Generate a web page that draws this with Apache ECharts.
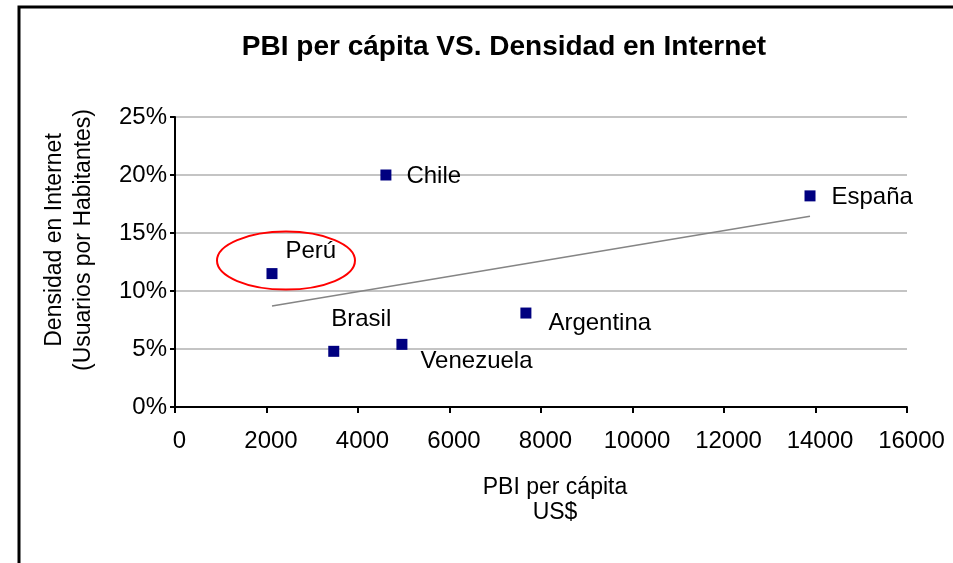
<!DOCTYPE html>
<html>
<head>
<meta charset="utf-8">
<script src="https://cdn.jsdelivr.net/npm/echarts@6/dist/echarts.min.js"></script>
<style>
html,body{margin:0;padding:0;background:#fff;}
#chart{width:953px;height:563px;}
</style>
</head>
<body>
<div id="chart"></div>
<script>
// ---- data ----
const countries = ['Perú', 'Brasil', 'Venezuela', 'Chile', 'Argentina', 'España'];
const pbiPerCapita = [2120, 3470, 4960, 4610, 7670, 13880];
const densidadInternet = [11.5, 4.8, 5.4, 20.0, 8.1, 18.2];
const xTicks = [0, 2000, 4000, 6000, 8000, 10000, 12000, 14000, 16000];
const yTicks = [0, 5, 10, 15, 20, 25];

// ---- label placement (style, not data) ----
const labelOffsets = {
  'Perú': [8, -22],
  'Brasil': [-8, -32],
  'Venezuela': [13, 17],
  'Chile': [15, 1],
  'Argentina': [17, 10],
  'España': [16, 1]
};

// linear trend line from the data
const n = pbiPerCapita.length;
const mx = pbiPerCapita.reduce((a, b) => a + b, 0) / n;
const my = densidadInternet.reduce((a, b) => a + b, 0) / n;
let sxy = 0, sxx = 0;
for (let i = 0; i < n; i++) {
  sxy += (pbiPerCapita[i] - mx) * (densidadInternet[i] - my);
  sxx += (pbiPerCapita[i] - mx) * (pbiPerCapita[i] - mx);
}
const slope = sxy / sxx;
const intercept = my - slope * mx;
const xMin = Math.min(...pbiPerCapita), xMax = Math.max(...pbiPerCapita);
const trend = [[xMin, intercept + slope * xMin], [xMax, intercept + slope * xMax]];

const FONT = '"Liberation Sans", Arial, sans-serif';
const FS = 24;

const chart = echarts.init(document.getElementById('chart'), null, {renderer: 'canvas'});

const scatterData = countries.map((c, i) => ({
  name: c,
  value: [pbiPerCapita[i], densidadInternet[i]],
  label: {offset: labelOffsets[c]}
}));

chart.setOption({
  animation: false,
  backgroundColor: '#ffffff',
  title: {
    text: 'PBI per cápita VS. Densidad en Internet',
    left: 499,
    top: 28,
    textAlign: 'center',
    textStyle: {fontFamily: FONT, fontSize: 28, fontWeight: 'bold', color: '#000'}
  },
  grid: {left: 175, right: 46, top: 117, bottom: 156},
  xAxis: {
    type: 'value',
    min: xTicks[0],
    max: xTicks[xTicks.length - 1],
    interval: 2000,
    name: 'PBI per cápita\nUS$',
    nameLocation: 'middle',
    nameGap: 68,
    nameTextStyle: {fontFamily: FONT, fontSize: 23, color: '#000', lineHeight: 25, padding: [0, 0, 0, 28]},
    axisLine: {show: true, onZero: false, lineStyle: {color: '#000', width: 2}},
    axisTick: {show: true, inside: false, length: 6, lineStyle: {color: '#000', width: 2}},
    axisLabel: {fontFamily: FONT, fontSize: FS, color: '#000', margin: 22, padding: [0, 0, 0, 9],
      formatter: v => String(v)},
    splitLine: {show: false}
  },
  yAxis: {
    type: 'value',
    min: yTicks[0],
    max: yTicks[yTicks.length - 1],
    interval: 5,
    name: 'Densidad en Internet\n(Usuarios por Habitantes)',
    nameLocation: 'middle',
    nameRotate: 90,
    nameGap: 77,
    nameTextStyle: {fontFamily: FONT, fontSize: 23, color: '#000', lineHeight: 29, padding: [0, 0, 0, 44]},
    axisLine: {show: true, onZero: false, lineStyle: {color: '#000', width: 2}},
    axisTick: {show: true, inside: false, length: 5, lineStyle: {color: '#000', width: 2}},
    axisLabel: {fontFamily: FONT, fontSize: FS, color: '#000', margin: 8, formatter: '{value}%'},
    splitLine: {show: true, lineStyle: {color: '#c4c4c4', width: 2}}
  },
  graphic: [{
    id: 'frame',
    type: 'rect',
    shape: {x: 19, y: 7, width: 1200, height: 1200},
    style: {fill: 'none', stroke: '#000', lineWidth: 3},
    silent: true,
    z: 100
  }],
  series: [{
    type: 'line',
    data: trend,
    symbol: 'none',
    silent: true,
    lineStyle: {color: '#858585', width: 1.6},
    z: 2
  }, {
    type: 'scatter',
    data: scatterData,
    symbol: 'rect',
    symbolSize: 11,
    itemStyle: {color: '#000080', opacity: 1},
    label: {
      show: true,
      position: 'right',
      distance: 0,
      formatter: '{b}',
      fontFamily: FONT,
      fontSize: FS,
      color: '#000',
      opacity: 1
    },
    z: 3
  }]
});

// red ellipse highlighting Perú, anchored to its data point
const iPeru = countries.indexOf('Perú');
const p = chart.convertToPixel({gridIndex: 0}, [pbiPerCapita[iPeru], densidadInternet[iPeru]]);
chart.setOption({
  graphic: [{
    id: 'peruEllipse',
    type: 'ellipse',
    shape: {cx: p[0] + 14, cy: p[1] - 13, rx: 69, ry: 29},
    style: {fill: 'none', stroke: '#ff0000', lineWidth: 2},
    silent: true,
    z: 100
  }]
});
</script>
</body>
</html>
